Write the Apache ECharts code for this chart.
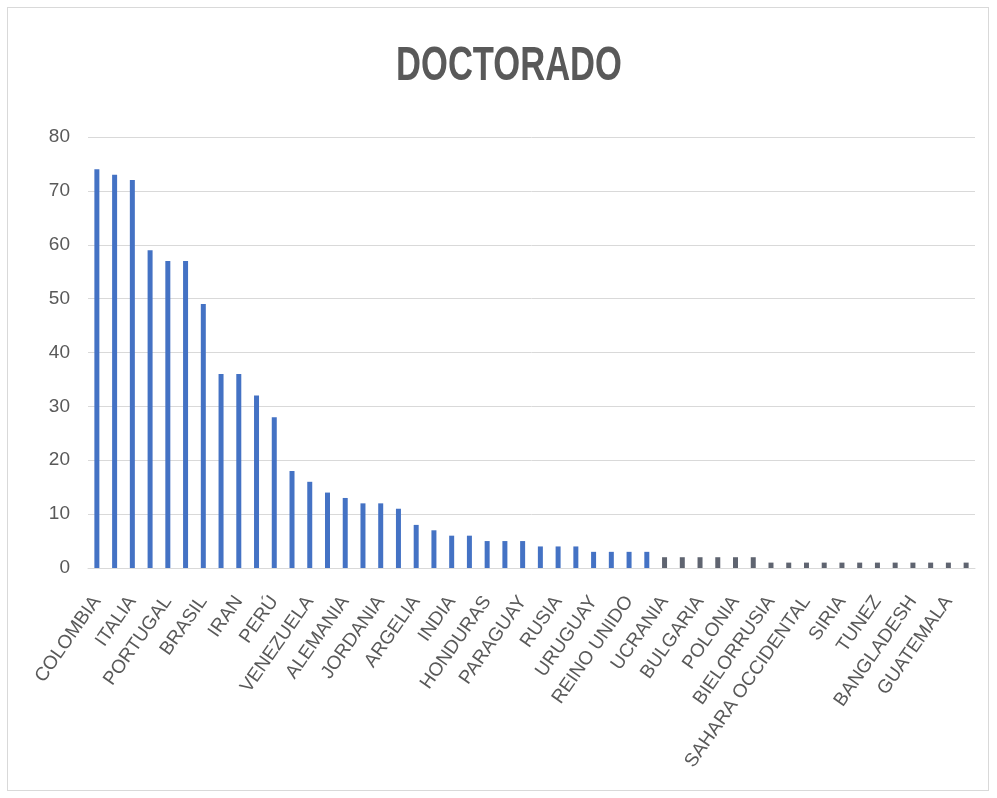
<!DOCTYPE html>
<html>
<head>
<meta charset="utf-8">
<title>DOCTORADO</title>
<script src="https://cdn.jsdelivr.net/npm/echarts@6/dist/echarts.min.js"></script>
<style>
  html, body { margin: 0; padding: 0; background: #fff; }
  #frame {
    position: absolute; left: 7px; top: 7px; width: 982px; height: 784px;
    border: 1px solid #d9d9d9; box-sizing: border-box;
  }
  #chart { position: absolute; left: 0; top: 0; width: 997px; height: 798px; }
</style>
</head>
<body>
<div id="frame"></div>
<div id="chart"></div>
<script>
// paises (solo uno de cada dos lleva etiqueta visible)
const countries = [
  'COLOMBIA', '', 'ITALIA', '', 'PORTUGAL', '', 'BRASIL', '', 'IRAN', '',
  'PERÚ', '', 'VENEZUELA', '', 'ALEMANIA', '', 'JORDANIA', '', 'ARGELIA', '',
  'INDIA', '', 'HONDURAS', '', 'PARAGUAY', '', 'RUSIA', '', 'URUGUAY', '',
  'REINO UNIDO', '', 'UCRANIA', '', 'BULGARIA', '', 'POLONIA', '', 'BIELORRUSIA', '',
  'SAHARA OCCIDENTAL', '', 'SIRIA', '', 'TUNEZ', '', 'BANGLADESH', '', 'GUATEMALA', ''
]
const doctorado = [
  74, 73, 72, 59, 57, 57, 49, 36, 36, 32,
  28, 18, 16, 14, 13, 12, 12, 11, 8, 7,
  6, 6, 5, 5, 5, 4, 4, 4, 3, 3,
  3, 3, 2, 2, 2, 2, 2, 2, 1, 1,
  1, 1, 1, 1, 1, 1, 1, 1, 1, 1
]
const yTicks = { min: 0, max: 80, interval: 10 }

const myChart = echarts.init(document.getElementById('chart'))
const option = {
  backgroundColor: 'transparent',
  animation: false,
  // titulo estrecho (tipo Calibri), se comprime en horizontal
  graphic: [{
    type: 'text',
    x: 509,
    y: 67,
    scaleX: 0.72,
    style: {
      text: 'DOCTORADO',
      fill: '#595959',
      font: 'bold 48px "Liberation Sans", sans-serif',
      textAlign: 'center',
      textVerticalAlign: 'middle'
    }
  }],
  grid: {
    left: 88,
    right: 22,
    top: 137,
    bottom: 230,
    containLabel: false
  },
  xAxis: {
    type: 'category',
    data: countries,
    axisTick: { show: false },
    axisLine: { lineStyle: { color: '#d9d9d9', width: 1 } },
    axisLabel: {
      interval: 1,
      rotate: 55,
      margin: 30,
      color: '#595959',
      fontSize: 19,
      fontFamily: '"Liberation Sans", sans-serif'
    }
  },
  yAxis: {
    type: 'value',
    min: yTicks.min,
    max: yTicks.max,
    interval: yTicks.interval,
    axisLine: { show: false },
    axisTick: { show: false },
    splitLine: { lineStyle: { color: '#d9d9d9', width: 1 } },
    axisLabel: {
      margin: 18,
      color: '#595959',
      fontSize: 19,
      fontFamily: '"Liberation Sans", sans-serif'
    }
  },
  series: [{
    name: 'DOCTORADO',
    type: 'bar',
    data: doctorado,
    barWidth: 5,
    itemStyle: {
      // las barras mas bajas salen grisaceas en el original
      color: function (params) {
        return params.value <= 2 ? '#5f6470' : '#4472c4'
      }
    }
  }]
}
myChart.setOption(option, true)
</script>
</body>
</html>
